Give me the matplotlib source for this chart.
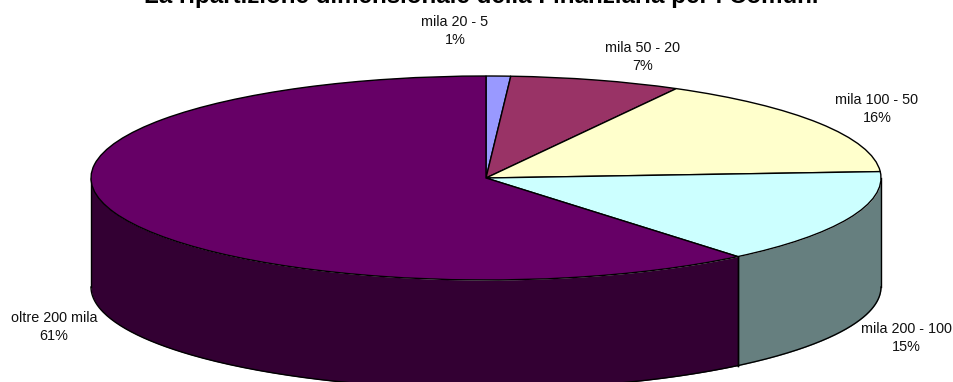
import numpy as np
import matplotlib
matplotlib.use("Agg")
import matplotlib.pyplot as plt

plt.rcParams['font.family'] = ['Liberation Sans', 'DejaVu Sans']

categories = ['mila 20 - 5', 'mila 50 - 20', 'mila 100 - 50', 'mila 200 - 100', 'oltre 200 mila']
values = [1, 7, 16, 15, 61]
top_colors = ['#9999ff', '#993366', '#ffffcc', '#ccffff', '#660066']
side_colors = ['#4c4c7f', '#4c1933', '#7f7f66', '#667f7f', '#330033']

title = 'La ripartizione dimensionale della Finanziaria per i Comuni'

W, H = 954, 382
CX, CY = 486, 178
RX, RY = 395, 102
DEPTH = 109 / RY

fig = plt.figure(figsize=(W / 100, H / 100), dpi=100)
ax = fig.add_axes([0, 0, 1, 1])


# pixel position -> pie data coordinates
def px(x, y):
    return (x - CX) / RX, (CY - y) / RY


# side wall first, only the front half of the disc is visible
edges = np.cumsum([0] + values) / sum(values) * 360
for i in range(len(values)):
    start = max(edges[i], 90)
    end = min(edges[i + 1], 270)
    if start >= end:
        continue
    t = np.radians(np.linspace(start, end, 200))
    xs = np.sin(t)
    ys = np.cos(t)
    ax.fill_between(xs, ys, ys - DEPTH, color=side_colors[i], lw=0, zorder=1)
    ax.plot(xs, ys - DEPTH, color='black', lw=1, zorder=2)
    ax.plot([xs[0], xs[0]], [ys[0], ys[0] - DEPTH], color='black', lw=1, zorder=2)
    ax.plot([xs[-1], xs[-1]], [ys[-1], ys[-1] - DEPTH], color='black', lw=1, zorder=2)

# top face, squashed to an ellipse by the auto aspect set below
wedges, _ = ax.pie(values, colors=top_colors, startangle=90, counterclock=False,
                   radius=1, wedgeprops={'edgecolor': 'black', 'linewidth': 1, 'zorder': 3})

ax.set_aspect('auto')
ax.set_xlim(-CX / RX, (W - CX) / RX)
ax.set_ylim((CY - H) / RY, CY / RY)
ax.axis('off')

# labels
label_pos = [(455, 31), (643, 57), (877, 109), (906, 338), (54, 327)]
for name, val, (lx, ly) in zip(categories, values, label_pos):
    x, y = px(lx, ly)
    ax.text(x, y, f'{name}\n{val}%', ha='center', va='center', fontsize=10.4,
            color='#111111', linespacing=1.42, zorder=5)

x, y = px(481.5, 3.5)
ax.text(x, y, title, ha='center', va='baseline', fontsize=17.4, fontweight='bold',
        color='black', zorder=5)

fig.savefig('out.png', dpi=100)
